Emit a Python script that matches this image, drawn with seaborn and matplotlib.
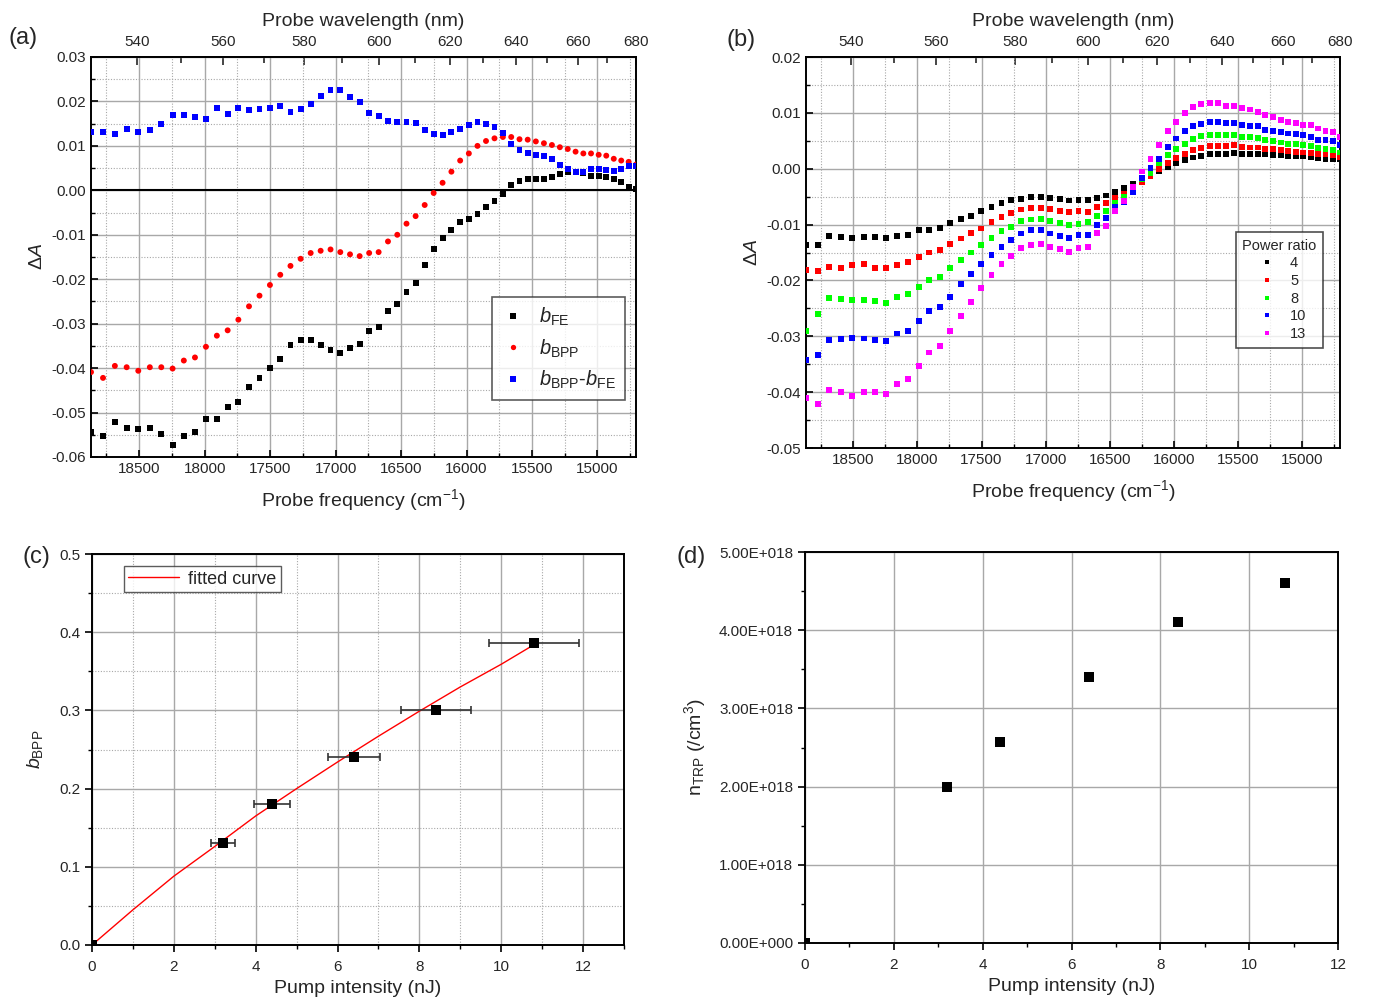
import numpy as np
import pandas as pd
import matplotlib
matplotlib.use('Agg')
import matplotlib.pyplot as plt
from matplotlib.ticker import MultipleLocator, FixedLocator, FuncFormatter
import seaborn as sns

# probe wavelengths (nm) of the spectra, shared by panels (a) and (b)
wavelength = [530.00, 532.59, 535.17, 537.76, 540.34, 542.93, 545.52, 548.10, 550.69, 553.28,
              555.86, 558.45, 561.03, 563.62, 566.21, 568.79, 571.38, 573.97, 576.55, 579.14,
              581.72, 584.31, 586.90, 589.48, 592.07, 594.66, 597.24, 599.83, 602.41, 605.00,
              607.59, 610.17, 612.76, 615.34, 617.93, 620.52, 623.10, 625.69, 628.28, 630.86,
              633.45, 636.03, 638.62, 641.21, 643.79, 646.38, 648.97, 651.55, 654.14, 656.72,
              659.31, 661.90, 664.48, 667.07, 669.66, 672.24, 674.83, 677.41, 680.00]

# panel (a)
b_fe = [-0.0544, -0.0553, -0.0521, -0.0535, -0.0537, -0.0534, -0.0548, -0.0572, -0.0553, -0.0543,
        -0.0514, -0.0515, -0.0487, -0.0476, -0.0443, -0.0422, -0.0399, -0.0380, -0.0347, -0.0337,
        -0.0336, -0.0349, -0.0360, -0.0365, -0.0354, -0.0346, -0.0317, -0.0308, -0.0272, -0.0255,
        -0.0228, -0.0209, -0.0168, -0.0133, -0.0108, -0.0090, -0.0072, -0.0064, -0.0054, -0.0038,
        -0.0025, -0.0009, 0.0011, 0.0021, 0.0026, 0.0025, 0.0025, 0.0030, 0.0037, 0.0042,
        0.0041, 0.0040, 0.0033, 0.0032, 0.0029, 0.0026, 0.0018, 0.0008, 0.0002]
b_bpp = [-0.0409, -0.0422, -0.0395, -0.0398, -0.0406, -0.0398, -0.0398, -0.0401, -0.0383, -0.0376,
         -0.0352, -0.0327, -0.0315, -0.0291, -0.0261, -0.0237, -0.0213, -0.0190, -0.0170, -0.0154,
         -0.0141, -0.0136, -0.0133, -0.0139, -0.0144, -0.0148, -0.0141, -0.0139, -0.0115, -0.0100,
         -0.0075, -0.0058, -0.0033, -0.0006, 0.0017, 0.0042, 0.0067, 0.0083, 0.0100, 0.0111,
         0.0117, 0.0120, 0.0120, 0.0115, 0.0114, 0.0110, 0.0106, 0.0102, 0.0097, 0.0093,
         0.0087, 0.0083, 0.0083, 0.0080, 0.0078, 0.0071, 0.0067, 0.0064, 0.0058]
b_diff = [0.0132, 0.0132, 0.0127, 0.0137, 0.0131, 0.0135, 0.0150, 0.0169, 0.0169, 0.0166,
          0.0161, 0.0186, 0.0171, 0.0186, 0.0181, 0.0184, 0.0186, 0.0190, 0.0176, 0.0182,
          0.0195, 0.0213, 0.0226, 0.0225, 0.0210, 0.0198, 0.0175, 0.0168, 0.0156, 0.0154,
          0.0153, 0.0151, 0.0135, 0.0127, 0.0125, 0.0131, 0.0139, 0.0148, 0.0153, 0.0149,
          0.0142, 0.0129, 0.0105, 0.0091, 0.0085, 0.0080, 0.0077, 0.0071, 0.0058, 0.0048,
          0.0041, 0.0042, 0.0048, 0.0048, 0.0046, 0.0043, 0.0048, 0.0055, 0.0055]

# panel (b): spectra for each power ratio
power_ratios = ['4', '5', '8', '10', '13']
ratio_4 = [-0.0137, -0.0136, -0.0121, -0.0122, -0.0124, -0.0123, -0.0123, -0.0124, -0.0121, -0.0119,
           -0.0110, -0.0109, -0.0106, -0.0097, -0.0090, -0.0084, -0.0075, -0.0069, -0.0062, -0.0056,
           -0.0054, -0.0051, -0.0051, -0.0053, -0.0054, -0.0057, -0.0056, -0.0056, -0.0052, -0.0048,
           -0.0041, -0.0035, -0.0027, -0.0016, -0.0011, -0.0004, 0.0003, 0.0011, 0.0016, 0.0020,
           0.0023, 0.0026, 0.0026, 0.0027, 0.0028, 0.0027, 0.0027, 0.0027, 0.0026, 0.0024,
           0.0024, 0.0023, 0.0023, 0.0022, 0.0020, 0.0019, 0.0018, 0.0017, 0.0017]
ratio_5 = [-0.0182, -0.0183, -0.0176, -0.0177, -0.0173, -0.0171, -0.0178, -0.0178, -0.0172, -0.0167,
           -0.0158, -0.0150, -0.0146, -0.0134, -0.0125, -0.0115, -0.0107, -0.0095, -0.0087, -0.0079,
           -0.0073, -0.0070, -0.0070, -0.0072, -0.0075, -0.0078, -0.0076, -0.0077, -0.0069, -0.0062,
           -0.0053, -0.0045, -0.0032, -0.0023, -0.0013, -0.0001, 0.0010, 0.0019, 0.0026, 0.0033,
           0.0037, 0.0040, 0.0041, 0.0041, 0.0042, 0.0039, 0.0038, 0.0038, 0.0036, 0.0035,
           0.0033, 0.0032, 0.0030, 0.0029, 0.0028, 0.0027, 0.0026, 0.0024, 0.0020]
ratio_8 = [-0.0291, -0.0260, -0.0231, -0.0233, -0.0235, -0.0235, -0.0237, -0.0241, -0.0229, -0.0225,
           -0.0212, -0.0200, -0.0194, -0.0178, -0.0164, -0.0150, -0.0137, -0.0124, -0.0112, -0.0104,
           -0.0094, -0.0091, -0.0090, -0.0094, -0.0097, -0.0100, -0.0099, -0.0096, -0.0085, -0.0075,
           -0.0061, -0.0050, -0.0037, -0.0019, -0.0008, 0.0010, 0.0024, 0.0035, 0.0045, 0.0053,
           0.0059, 0.0060, 0.0060, 0.0061, 0.0060, 0.0057, 0.0057, 0.0055, 0.0051, 0.0050,
           0.0047, 0.0045, 0.0045, 0.0043, 0.0041, 0.0037, 0.0036, 0.0034, 0.0029]
ratio_10 = [-0.0343, -0.0334, -0.0307, -0.0305, -0.0303, -0.0304, -0.0306, -0.0308, -0.0295, -0.0290,
            -0.0272, -0.0254, -0.0248, -0.0229, -0.0207, -0.0189, -0.0171, -0.0154, -0.0140, -0.0127,
            -0.0116, -0.0110, -0.0110, -0.0116, -0.0120, -0.0124, -0.0118, -0.0118, -0.0101, -0.0089,
            -0.0069, -0.0059, -0.0041, -0.0017, 0.0001, 0.0018, 0.0039, 0.0054, 0.0067, 0.0076,
            0.0080, 0.0084, 0.0084, 0.0082, 0.0082, 0.0079, 0.0077, 0.0076, 0.0070, 0.0068,
            0.0065, 0.0063, 0.0062, 0.0060, 0.0057, 0.0052, 0.0051, 0.0049, 0.0042]
ratio_13 = [-0.0410, -0.0422, -0.0396, -0.0399, -0.0407, -0.0400, -0.0399, -0.0404, -0.0385, -0.0377,
            -0.0353, -0.0329, -0.0317, -0.0291, -0.0263, -0.0238, -0.0214, -0.0191, -0.0171, -0.0156,
            -0.0142, -0.0136, -0.0134, -0.0140, -0.0144, -0.0149, -0.0142, -0.0140, -0.0115, -0.0102,
            -0.0075, -0.0058, -0.0033, -0.0005, 0.0017, 0.0042, 0.0067, 0.0084, 0.0100, 0.0110,
            0.0116, 0.0118, 0.0118, 0.0113, 0.0112, 0.0109, 0.0106, 0.0102, 0.0096, 0.0093,
            0.0087, 0.0083, 0.0082, 0.0079, 0.0078, 0.0072, 0.0068, 0.0066, 0.0057]

# panel (c)
pump = [0.0, 3.2, 4.4, 6.4, 8.4, 10.8]
pump_err = [0.0, 0.3, 0.45, 0.63, 0.85, 1.1]
b_bpp_fit_pts = [0.0, 0.13, 0.18, 0.24, 0.301, 0.386]
fit_x = [0, 1, 2, 3, 4, 5, 6, 7, 8, 9, 10, 10.8]
fit_y = [0.0, 0.045, 0.088, 0.126, 0.165, 0.200, 0.234, 0.267, 0.299, 0.330, 0.359, 0.384]

# panel (d)
n_trp = [0.0, 2.00e18, 2.57e18, 3.40e18, 4.10e18, 4.60e18]

sns.set_style('white')
plt.rcParams['font.family'] = ['Liberation Sans', 'DejaVu Sans']
plt.rcParams['mathtext.fontset'] = 'custom'
plt.rcParams['mathtext.rm'] = 'Liberation Sans'
plt.rcParams['mathtext.it'] = 'Liberation Sans:italic'
plt.rcParams['mathtext.bf'] = 'Liberation Sans:bold'

TICK = 11
LAB = 14
GRID = '#a8a8a8'

freq = 1e7 / np.array(wavelength)


def recip(x):
    x = np.asarray(x, dtype=float)
    with np.errstate(divide='ignore', invalid='ignore'):
        return 1e7 / x


def style_axes(ax, direction):
    for s in ax.spines.values():
        s.set_linewidth(1.4)
        s.set_color('black')
    ax.tick_params(which='both', direction=direction, labelsize=TICK, color='black',
                   top=False, right=False, bottom=True, left=True)
    ax.tick_params(which='major', length=5, width=1.2)
    ax.tick_params(which='minor', length=3, width=1.0)
    ax.set_axisbelow(True)


def spectrum_axes(ax, ylo, yhi):
    ax.set_xlim(1e7 / 530, 1e7 / 680)
    ax.set_ylim(ylo, yhi)
    ax.xaxis.set_major_locator(FixedLocator([18500, 18000, 17500, 17000, 16500, 16000, 15500, 15000]))
    ax.xaxis.set_minor_locator(MultipleLocator(250))
    ax.yaxis.set_major_locator(MultipleLocator(0.01))
    ax.yaxis.set_minor_locator(MultipleLocator(0.005))
    ax.yaxis.set_major_formatter(FuncFormatter(lambda v, p: f'{v:.2f}'.replace('-0.00', '0.00')))
    ax.grid(which='major', color=GRID, lw=1.0, ls='-')
    ax.grid(which='minor', color=GRID, lw=0.8, ls=(0, (1, 1.5)))
    style_axes(ax, 'in')
    ax.set_xlabel('Probe frequency (cm$^{-1}$)', fontsize=LAB, labelpad=8)
    ax.set_ylabel(r'$\Delta A$', fontsize=LAB, labelpad=4)
    sec = ax.secondary_xaxis('top', functions=(recip, recip))
    sec.xaxis.set_major_locator(FixedLocator(list(range(540, 681, 20))))
    sec.xaxis.set_minor_locator(FixedLocator(list(range(550, 671, 20))))
    sec.tick_params(which='both', direction='in', labelsize=TICK, width=1.2)
    sec.tick_params(which='major', length=6, pad=6)
    sec.tick_params(which='minor', length=4)
    sec.spines['top'].set_linewidth(1.4)
    sec.set_xlabel('Probe wavelength (nm)', fontsize=LAB, labelpad=6)
    return sec


fig = plt.figure(figsize=(13.73, 10.02), dpi=100)

# ---------------- (a)
ax_a = fig.add_axes([91 / 1373, 1 - 457 / 1002, 545 / 1373, 400 / 1002])
lab_fe = r'$b_{\rm FE}$'
lab_bpp = r'$b_{\rm BPP}$'
lab_diff = r'$b_{\rm BPP}$-$b_{\rm FE}$'
df_a = pd.DataFrame({
    'freq': np.concatenate([freq, freq, freq]),
    'dA': b_fe + b_bpp + b_diff,
    'series': [lab_fe] * len(freq) + [lab_bpp] * len(freq) + [lab_diff] * len(freq),
})
ax_a.axhline(0, color='black', lw=1.5, zorder=1.5)
sns.scatterplot(data=df_a, x='freq', y='dA', hue='series', style='series',
                hue_order=[lab_fe, lab_bpp, lab_diff], style_order=[lab_fe, lab_bpp, lab_diff],
                palette=['black', '#ff0000', '#0000ff'], markers=['s', 'o', 's'],
                s=18, linewidth=0, ax=ax_a, zorder=3)
spectrum_axes(ax_a, -0.06, 0.03)
sns.move_legend(ax_a, 'upper right', bbox_to_anchor=(0.98, 0.40), title=None,
                fontsize=14.5, frameon=True, fancybox=False, edgecolor='#333333',
                borderaxespad=0, handletextpad=0.7, labelspacing=0.45, borderpad=0.45,
                markerscale=0.9, handlelength=1.2)
ax_a.get_legend().get_frame().set_linewidth(1.2)
fig.text(8 / 1373, 1 - 38 / 1002, '(a)', fontsize=17, va='center', ha='left')

# ---------------- (b)
ax_b = fig.add_axes([806 / 1373, 1 - 448 / 1002, 534 / 1373, 391 / 1002])
series_b = [ratio_4, ratio_5, ratio_8, ratio_10, ratio_13]
df_b = pd.DataFrame({
    'freq': np.concatenate([freq] * len(series_b)),
    'dA': sum(series_b, []),
    'ratio': sum([[r] * len(freq) for r in power_ratios], []),
})
sns.scatterplot(data=df_b, x='freq', y='dA', hue='ratio', hue_order=power_ratios,
                palette=['black', '#ff0000', '#00ff00', '#0000ff', '#ff00ff'],
                marker='s', s=18, linewidth=0, ax=ax_b, zorder=3)
spectrum_axes(ax_b, -0.05, 0.02)
sns.move_legend(ax_b, 'upper right', bbox_to_anchor=(0.968, 0.552), title='Power ratio',
                fontsize=10.5, title_fontsize=10.5, frameon=True, fancybox=False,
                edgecolor='#222222', borderaxespad=0, handletextpad=0.6, labelspacing=0.25,
                borderpad=0.45, markerscale=0.75)
ax_b.get_legend().get_frame().set_linewidth(1.2)
fig.text(727 / 1373, 1 - 40 / 1002, '(b)', fontsize=17, va='center', ha='left')

# ---------------- (c)
ax_c = fig.add_axes([92 / 1373, 1 - 945 / 1002, 532 / 1373, 391 / 1002])
sns.lineplot(x=fit_x, y=fit_y, color='#ff0000', lw=1.0, label='fitted curve', ax=ax_c, zorder=2)
ax_c.errorbar(pump, b_bpp_fit_pts, xerr=pump_err, fmt='none', ecolor='#333333',
              elinewidth=1.2, capsize=3, capthick=1.2, zorder=3)
sns.scatterplot(x=pump, y=b_bpp_fit_pts, marker='s', color='black', s=50, linewidth=0,
                legend=False, ax=ax_c, zorder=4)
ax_c.set_xlim(0, 13)
ax_c.set_ylim(0, 0.5)
ax_c.xaxis.set_major_locator(MultipleLocator(2))
ax_c.xaxis.set_minor_locator(MultipleLocator(1))
ax_c.yaxis.set_major_locator(MultipleLocator(0.1))
ax_c.yaxis.set_minor_locator(MultipleLocator(0.05))
ax_c.yaxis.set_major_formatter(FuncFormatter(lambda v, p: f'{v:.1f}'))
ax_c.grid(which='major', color=GRID, lw=1.0, ls='-')
ax_c.grid(which='minor', color=GRID, lw=0.8, ls=(0, (1, 1.5)))
style_axes(ax_c, 'out')
ax_c.tick_params(axis='x', pad=6)
ax_c.set_xlabel('Pump intensity (nJ)', fontsize=LAB, labelpad=4)
ax_c.set_ylabel(r'$b_{\rm BPP}$', fontsize=LAB, labelpad=10)
ax_c.legend(loc='upper left', bbox_to_anchor=(0.06, 0.969), fontsize=13, frameon=True,
            fancybox=False, edgecolor='#333333', borderaxespad=0, handlelength=2.8,
            borderpad=0.25, handletextpad=0.5)
ax_c.get_legend().get_frame().set_linewidth(1.0)
fig.text(22 / 1373, 1 - 557 / 1002, '(c)', fontsize=17, va='center', ha='left')

# ---------------- (d)
ax_d = fig.add_axes([805 / 1373, 1 - 943 / 1002, 533 / 1373, 391 / 1002])
sns.scatterplot(x=pump, y=n_trp, marker='s', color='black', s=45, linewidth=0,
                legend=False, ax=ax_d, zorder=4)
ax_d.set_xlim(0, 12)
ax_d.set_ylim(0, 5e18)
ax_d.xaxis.set_major_locator(MultipleLocator(2))
ax_d.xaxis.set_minor_locator(MultipleLocator(1))
ax_d.yaxis.set_major_locator(MultipleLocator(1e18))
ax_d.yaxis.set_minor_locator(MultipleLocator(5e17))
ax_d.yaxis.set_major_formatter(FuncFormatter(
    lambda v, p: '0.00E+000' if abs(v) < 1 else f'{v / 1e18:.2f}E+018'))
ax_d.grid(which='major', color=GRID, lw=1.0, ls='-')
style_axes(ax_d, 'out')
ax_d.tick_params(axis='x', pad=6)
ax_d.set_xlabel('Pump intensity (nJ)', fontsize=LAB, labelpad=4)
ax_d.set_ylabel(r'n$_{\rm TRP}$ (/cm$^3$)', fontsize=LAB, labelpad=8)
fig.text(677 / 1373, 1 - 557 / 1002, '(d)', fontsize=17, va='center', ha='left')

fig.savefig('out.png', dpi=100)
